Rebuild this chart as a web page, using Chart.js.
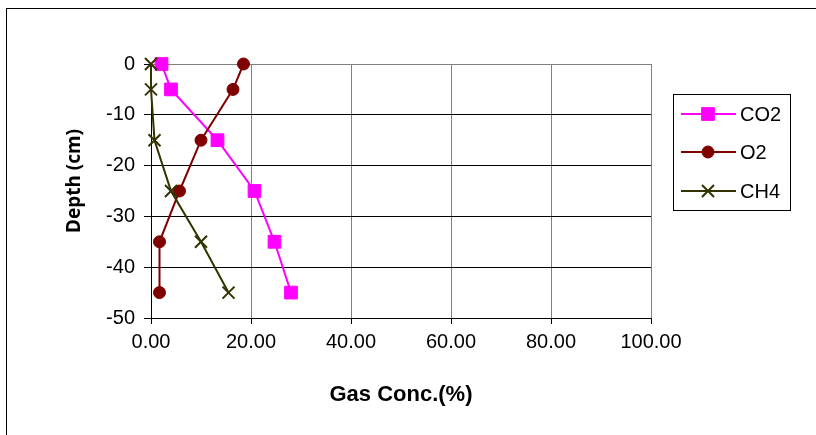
<!DOCTYPE html>
<html>
<head>
<meta charset="utf-8">
<script src="https://cdn.jsdelivr.net/npm/chart.js@4"></script>
<style>
  body { margin: 0; background: #fff; }
  canvas { display: block; }
</style>
</head>
<body>
<canvas id="myChart" width="816" height="435"></canvas>
<script>
// depth of each sample (cm) and gas concentrations (%)
const depths = [0, -5, -15, -25, -35, -45];
const co2 = [2.1, 4.0, 13.3, 20.7, 24.7, 28.0];
const o2 = [18.5, 16.4, 10.0, 5.7, 1.7, 1.7];
const ch4 = [0, 0, 0.7, 4.0, 10.0, 15.5];
const seriesNames = ['CO2', 'O2', 'CH4'];
const xTicks = [0, 20, 40, 60, 80, 100];
const yTicks = [0, -10, -20, -30, -40, -50];

const pts = (vals) => vals.map((v, i) => ({ x: v, y: depths[i] }));

const tickFont = { family: '"Liberation Sans", Arial, sans-serif', size: 20 };

// frame, axis titles and the boxed legend
const extras = {
    id: 'extras',
    afterDraw(chart) {
        const c = chart.ctx;
        c.save();
        c.strokeStyle = '#000';
        c.lineWidth = 1;
        c.strokeRect(6.5, 8.5, 1000, 1000);

        c.fillStyle = '#000';
        c.textAlign = 'center';
        c.textBaseline = 'middle';
        c.font = 'bold 22px "Liberation Sans", Arial, sans-serif';
        c.fillText('Gas Conc.(%)', 401, 395);

        c.save();
        c.translate(75, 181);
        c.rotate(-Math.PI / 2);
        c.font = 'bold 19px "Noto Sans", "DejaVu Sans", sans-serif';
        c.fillText('Depth (cm)', 0, 0);
        c.restore();

        // legend box
        c.strokeRect(673.5, 94.5, 117, 116);
        const rows = [114, 152, 191];
        chart.data.datasets.forEach((ds, i) => {
            const y = rows[i];
            c.strokeStyle = ds.borderColor;
            c.lineWidth = 2;
            c.beginPath();
            c.moveTo(681, y);
            c.lineTo(736, y);
            c.stroke();
            c.fillStyle = ds.pointBackgroundColor;
            c.strokeStyle = ds.pointBorderColor;
            c.lineWidth = ds.pointBorderWidth;
            Chart.helpers.drawPoint(c, { pointStyle: ds.pointStyle, radius: ds.pointRadius, borderWidth: ds.pointBorderWidth, rotation: 0 }, 708, y);
            c.fillStyle = '#000';
            c.textAlign = 'left';
            c.font = '20px "Liberation Sans", Arial, sans-serif';
            c.fillText(ds.label, 740, y + 1);
        });
        c.restore();
    }
};

const ctx = document.getElementById('myChart').getContext('2d');
const myChart = new Chart(ctx, {
    type: 'line',
    data: {
        datasets: [{
            label: seriesNames[0],
            data: pts(co2),
            borderColor: '#FF00FF',
            borderWidth: 2,
            pointStyle: 'rect',
            pointRadius: 9,
            pointBackgroundColor: '#FF00FF',
            pointBorderColor: '#FF00FF',
            pointBorderWidth: 1,
            order: 3,
            clip: false
        }, {
            label: seriesNames[1],
            data: pts(o2),
            borderColor: '#800000',
            borderWidth: 2,
            pointStyle: 'circle',
            pointRadius: 6,
            pointBackgroundColor: '#800000',
            pointBorderColor: '#800000',
            pointBorderWidth: 1,
            order: 2,
            clip: false
        }, {
            label: seriesNames[2],
            data: pts(ch4),
            borderColor: '#333300',
            borderWidth: 2,
            pointStyle: 'crossRot',
            pointRadius: 8.5,
            pointBackgroundColor: '#333300',
            pointBorderColor: '#333300',
            pointBorderWidth: 2,
            order: 1,
            clip: false
        }]
    },
    options: {
        responsive: false,
        animation: false,
        layout: { padding: { left: 0, top: 64, right: 165, bottom: 0 } },
        scales: {
            x: {
                type: 'linear',
                min: 0,
                max: 100,
                afterFit: (s) => { s.height = 435 - 318; },
                afterBuildTicks: (s) => { s.ticks = xTicks.map(v => ({ value: v })); },
                ticks: {
                    font: tickFont,
                    color: '#000',
                    padding: 6,
                    maxRotation: 0,
                    callback: (v) => v.toFixed(2)
                },
                grid: { color: '#808080', tickColor: '#000', tickLength: 6, lineWidth: 1 },
                border: { color: '#000', width: 1 }
            },
            y: {
                type: 'linear',
                min: -50,
                max: 0,
                afterFit: (s) => { s.width = 151; },
                afterBuildTicks: (s) => { s.ticks = yTicks.map(v => ({ value: v })); },
                ticks: { font: tickFont, color: '#000', padding: 9 },
                grid: {
                    color: (c) => c.tick && c.tick.value === 0 ? '#808080' : '#000',
                    tickColor: '#000',
                    tickLength: 7,
                    lineWidth: 1
                },
                border: { color: '#000', width: 1 }
            }
        },
        plugins: {
            legend: { display: false },
            tooltip: { enabled: false }
        }
    },
    plugins: [extras]
});
</script>
</body>
</html>
